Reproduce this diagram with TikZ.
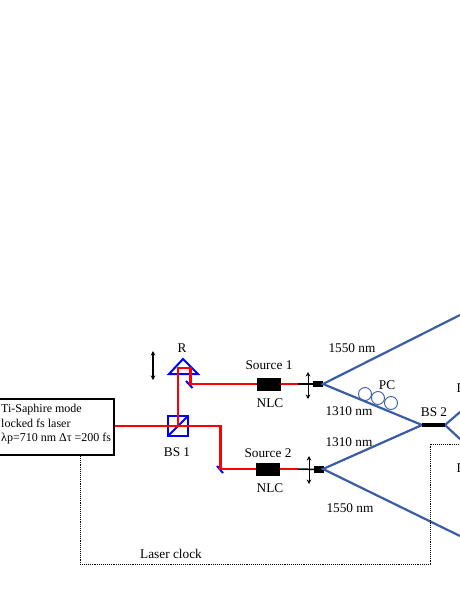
\documentclass[tikz,border=0pt]{standalone}
\usepackage{fontspec}
\setmainfont{Liberation Serif}
\usepackage{tikz}
\usetikzlibrary{arrows.meta}
\definecolor{fiberblue}{RGB}{59,93,163}
\tikzset{
	lab/.style={inner sep=0pt,font=\fontsize{13.3}{15}\selectfont},
	laserlab/.style={inner sep=0pt,anchor=west,font=\fontsize{12}{14}\selectfont},
	crystal/.style={fill=black,draw=none,minimum width=24pt,minimum height=13pt,inner sep=0pt},
	coupler/.style={fill=black,draw=none,minimum width=9.5pt,minimum height=6.5pt,inner sep=0pt},
	beam/.style={red,line width=2.2pt},
	fiber/.style={fiberblue,line width=2.2pt},
	optic/.style={blue,line width=2pt},
	clock/.style={densely dotted,line width=0.9pt},
	stage/.style={{Stealth[length=4.5pt,width=4.5pt]}-{Stealth[length=4.5pt,width=4.5pt]},line width=0.8pt}
}
\begin{document}
\begin{tikzpicture}[x=1pt,y=-1pt]
	\useasboundingbox (0,0) rectangle (459,595);
	
	\node(R) [lab] at (182,348){R};
	\node(BSone) [lab] at (177,452){BS 1};
	\node(SrcOne) [lab] at (269,365){Source 1};
	\node(NLCone) [lab] at (270,403){NLC};
	\node(SrcTwo) [lab] at (268,453){Source 2};
	\node(NLCtwo) [lab] at (270,488){NLC};
	\node(UpIdler) [lab] at (352,348){1550 nm};
	\node(UpSignal) [lab] at (349,411){1310 nm};
	\node(LoSignal) [lab] at (349,442){1310 nm};
	\node(LoIdler) [lab] at (350,508){1550 nm};
	\node(PC) [lab] at (387,385){PC};
	\node(BStwo) [lab] at (434,412){BS 2};
	\node(Clock) [lab] at (171,554){Laser clock};
	\node(DetOne) [lab,anchor=west] at (456.5,388){D};
	\node(DetTwo) [lab,anchor=west] at (456.5,468){D};
	
	\node(Laser) [draw,line width=1.8pt,minimum width=118pt,minimum height=56pt,inner sep=0pt] at (55,427){};
	\node(LaserA) [laserlab] at (1,410){Ti-Saphire mode};
	\node(LaserB) [laserlab] at (1,423){locked fs laser};
	\node(LaserC) [laserlab] at (1,439){λp=710 nm Δτ =200 fs};
	
	\coordinate(BSc) at (178,426);
	\coordinate(RoofA) at (178,368);
	\coordinate(RoofB) at (190.5,368);
	\coordinate(MirOne) at (190.5,384);
	\coordinate(MirTwo) at (220.5,426);
	\coordinate(MirThree) at (220.5,469);
	
	\node(CrysOne) [crystal] at (269,384){};
	\node(CrysTwo) [crystal] at (268,469){};
	\node(CoupOne) [coupler] at (318,384){};
	\node(CoupTwo) [coupler] at (319,469.5){};
	\coordinate(EndOne) at (298,384);
	\coordinate(EndTwo) at (298,469);
	
	\draw[optic] (168,416) rectangle (188,436);
	\draw[optic] (168,436)--(188,416);
	\draw[optic] (183,359)--(198,374)--(169,374)--cycle;
	\draw[optic] (186,381)--(192.5,388);
	\draw[optic] (217,466)--(223,473);
	
	\draw[beam] (Laser.east |- BSc)--(MirTwo)--(MirThree)--(CrysTwo);
	\draw[beam] (BSc)--(RoofA)--(RoofB)--(MirOne)--(CrysOne);
	\draw[beam] (CrysOne)--(EndOne);
	\draw[beam] (CrysTwo)--(EndTwo);
	\draw[line width=1.5pt] (EndOne)--(CoupOne);
	\draw[line width=1.5pt] (EndTwo)--(CoupTwo);
	
	\coordinate(ApexOne) at (323,384);
	\coordinate(ApexTwo) at (323,469);
	\coordinate(BSin) at (422,425);
	\coordinate(BSout) at (445,425);
	\coordinate(OutUp) at (460,315);
	\coordinate(OutDown) at (460,536);
	\coordinate(ExitUp) at (460,412);
	\coordinate(ExitDown) at (460,439);
	
	\draw[fiber] (OutUp)--(ApexOne)--(BSin)--(ApexTwo)--(OutDown);
	\draw[fiber] (ExitUp)--(BSout)--(ExitDown);
	\draw[line width=3.4pt] (BSin)--(BSout);
	
	\draw[fiberblue,line width=0.9pt] (365,394) circle (6.5);
	\draw[fiberblue,line width=0.9pt] (378,398) circle (6.5);
	\draw[fiberblue,line width=0.9pt] (391,403) circle (6.5);
	
	\draw[stage,line width=1.1pt] (153,351)--(153,380);
	\draw[stage] (308,372)--(308,399);
	\draw[stage] (309,456)--(309,484);
	
	\coordinate(ClockA) at (80,564);
	\coordinate(ClockB) at (430,564);
	\coordinate(ClockC) at (430,444);
	\coordinate(ClockD) at (460,444);
	\draw[clock] (Laser.south -| ClockA)--(ClockA)--(ClockB)--(ClockC)--(ClockD);
	\end{tikzpicture}
\end{document}
